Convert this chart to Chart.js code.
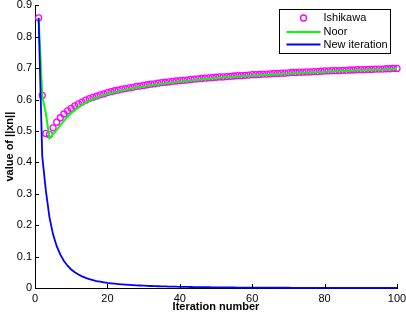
<!DOCTYPE html>
<html><head><meta charset="utf-8">
<script src="https://cdn.jsdelivr.net/npm/chart.js@4"></script>
<style>html,body{margin:0;padding:0;background:#fff}</style>
</head><body>
<canvas id="c" width="406" height="316"></canvas>
<script>
const iterations = [1,2,3,4,5,6,7,8,9,10,11,12,13,14,15,16,17,18,19,20,21,22,23,24,25,26,27,28,29,30,31,32,33,34,35,36,37,38,39,40,41,42,43,44,45,46,47,48,49,50,51,52,53,54,55,56,57,58,59,60,61,62,63,64,65,66,67,68,69,70,71,72,73,74,75,76,77,78,79,80,81,82,83,84,85,86,87,88,89,90,91,92,93,94,95,96,97,98,99,100];
const ishikawa = [0.860,0.613,0.492,0.488,0.510,0.528,0.542,0.554,0.564,0.572,
0.580,0.586,0.592,0.598,0.603,0.607,0.611,0.615,0.618,0.622,
0.625,0.628,0.630,0.633,0.635,0.637,0.639,0.642,0.643,0.645,
0.647,0.649,0.650,0.652,0.654,0.655,0.656,0.658,0.659,0.660,
0.661,0.662,0.664,0.665,0.666,0.667,0.668,0.669,0.670,0.671,
0.672,0.672,0.673,0.674,0.675,0.676,0.676,0.677,0.678,0.679,
0.679,0.680,0.681,0.681,0.682,0.683,0.683,0.684,0.684,0.685,
0.686,0.686,0.687,0.687,0.688,0.688,0.689,0.689,0.690,0.691,
0.691,0.692,0.692,0.692,0.693,0.693,0.694,0.694,0.695,0.695,
0.695,0.696,0.696,0.697,0.697,0.697,0.698,0.698,0.699,0.699];
const noor = [0.860,0.612,0.555,0.477,0.489,0.503,0.518,0.532,0.545,0.556,
0.566,0.575,0.583,0.590,0.596,0.601,0.606,0.610,0.614,0.617,
0.620,0.623,0.626,0.629,0.631,0.633,0.636,0.638,0.640,0.641,
0.643,0.645,0.646,0.648,0.650,0.651,0.653,0.654,0.656,0.657,
0.658,0.659,0.661,0.662,0.663,0.664,0.665,0.666,0.667,0.668,
0.669,0.670,0.671,0.671,0.672,0.673,0.674,0.675,0.675,0.676,
0.676,0.677,0.678,0.678,0.679,0.680,0.680,0.681,0.682,0.682,
0.683,0.684,0.684,0.685,0.685,0.686,0.686,0.687,0.687,0.688,
0.689,0.689,0.690,0.690,0.691,0.691,0.692,0.692,0.693,0.693,
0.693,0.694,0.694,0.695,0.695,0.695,0.696,0.696,0.697,0.697];
const newIteration = [0.860,0.420,0.310,0.225,0.170,0.133,0.106,0.086,0.071,0.059,
0.050,0.043,0.037,0.032,0.028,0.025,0.022,0.020,0.018,0.016,
0.0148,0.0136,0.0125,0.0115,0.0106,0.0098,0.0091,0.0085,0.0079,0.0074,
0.0069,0.0064,0.0060,0.0056,0.0052,0.0049,0.0046,0.0043,0.0041,0.0038,
0.0036,0.0034,0.0032,0.0030,0.0028,0.0027,0.0025,0.0024,0.0023,0.0021,
0.0020,0.0019,0.0018,0.0017,0.0016,0.0015,0.0015,0.0014,0.0013,0.0013,
0.0012,0.0011,0.0011,0.0010,0.0010,0.0009,0.0009,0.0008,0.0008,0.0008,
0.0007,0.0007,0.0006,0.0006,0.0006,0.0006,0.0005,0.0005,0.0005,0.0005,
0.0004,0.0004,0.0004,0.0004,0.0004,0.0004,0.0003,0.0003,0.0003,0.0003,
0.0003,0.0003,0.0003,0.0002,0.0002,0.0002,0.0002,0.0002,0.0002,0.0002];
const xTicks = [0,20,40,60,80,100];
const yTicks = [0,0.1,0.2,0.3,0.4,0.5,0.6,0.7,0.8,0.9];
const seriesNames = ['Ishikawa','Noor','New iteration'];
const xTitle = 'Iteration number';
const yTitle = 'value of ||xn||';

const FONT = '"Liberation Sans", Arial, Helvetica, sans-serif';
Chart.defaults.font.family = FONT;
Chart.defaults.font.size = 11;
Chart.defaults.color = '#000';

const pts = arr => iterations.map((x, i) => ({x: x, y: arr[i]}));

const inwardTicks = {
  id: 'inwardTicks',
  afterDatasetsDraw(chart) {
    const {ctx, chartArea: a, scales: {x, y}} = chart;
    ctx.save();
    ctx.strokeStyle = '#000';
    ctx.lineWidth = 1;
    ctx.beginPath();
    xTicks.forEach(v => {
      const px = Math.round(x.getPixelForValue(v)) + 0.5;
      ctx.moveTo(px, a.bottom); ctx.lineTo(px, a.bottom - 4);
    });
    yTicks.forEach(v => {
      const py = Math.round(y.getPixelForValue(v)) + 0.5;
      ctx.moveTo(a.left, py); ctx.lineTo(a.left + 4, py);
    });
    ctx.stroke();
    ctx.restore();
  }
};

const boxLegend = {
  id: 'boxLegend',
  afterDraw(chart) {
    const {ctx, chartArea: a} = chart;
    const ds = chart.data.datasets;
    const byName = n => ds.find(d => d.label === n);
    ctx.save();
    ctx.font = '11px ' + FONT;
    const maxW = Math.max(...seriesNames.map(n => ctx.measureText(n).width));
    const sampleL = 7, sampleW = 34, textGap = 3;
    const w = Math.round(sampleL + sampleW + textGap + maxW + 3);
    const right = Math.round(a.right) - 6.5;
    const left = right - w;
    const top = 9.5;
    const rowsY = [18, 32, 44.5];
    const h = 44;
    ctx.fillStyle = '#fff';
    ctx.fillRect(left, top, w, h);
    ctx.strokeStyle = '#000';
    ctx.lineWidth = 1;
    ctx.strokeRect(left, top, w, h);
    seriesNames.forEach((n, i) => {
      const d = byName(n);
      const y = rowsY[i];
      const sx = left + sampleL;
      if (d.showLine === false) {
        ctx.beginPath();
        ctx.arc(sx + sampleW / 2, y, d.pointRadius, 0, Math.PI * 2);
        ctx.strokeStyle = d.borderColor;
        ctx.lineWidth = d.pointBorderWidth;
        ctx.stroke();
      } else {
        ctx.beginPath();
        ctx.moveTo(sx, y); ctx.lineTo(sx + sampleW, y);
        ctx.strokeStyle = d.borderColor;
        ctx.lineWidth = d.borderWidth;
        ctx.stroke();
      }
      ctx.fillStyle = '#000';
      ctx.textBaseline = 'middle';
      ctx.textAlign = 'left';
      ctx.fillText(n, sx + sampleW + textGap, y);
    });
    ctx.restore();
  }
};

new Chart(document.getElementById('c'), {
  type: 'line',
  data: {
    datasets: [
      {label: seriesNames[2], data: pts(newIteration), borderColor: '#0000ff', backgroundColor: '#0000ff',
       borderWidth: 1.8, pointRadius: 0, fill: false, tension: 0, order: 0, clip: false},
      {label: seriesNames[1], data: pts(noor), borderColor: '#00ff00', backgroundColor: '#00ff00',
       borderWidth: 2, pointRadius: 0, fill: false, tension: 0, order: 1, clip: false},
      {label: seriesNames[0], data: pts(ishikawa), showLine: false, borderColor: '#ff00ff',
       pointBorderColor: '#ff00ff', pointBackgroundColor: 'rgba(0,0,0,0)', backgroundColor: 'rgba(0,0,0,0)',
       pointRadius: 3, pointBorderWidth: 1.3, order: 2, clip: false}
    ]
  },
  options: {
    responsive: false,
    animation: false,
    events: [],
    layout: {padding: {top: 4.5, right: 9, left: 0, bottom: 0}},
    plugins: {legend: {display: false}, tooltip: {enabled: false}},
    scales: {
      x: {
        type: 'linear', min: 0, max: 100,
        grid: {display: true, drawOnChartArea: false, drawTicks: false},
        border: {display: true, color: '#000', width: 1},
        afterBuildTicks: s => { s.ticks = xTicks.map(v => ({value: v})); },
        ticks: {padding: 4, color: '#000', font: {size: 11}, maxRotation: 0, callback: v => String(v)},
        title: {display: true, text: xTitle, font: {size: 11, weight: 'bold'}, color: '#000', padding: {top: 0, bottom: 2}},
        afterFit: s => { s.height = 28; s.paddingLeft = 0; s.paddingRight = 0; }
      },
      y: {
        type: 'linear', min: 0, max: 0.9,
        grid: {display: true, drawOnChartArea: false, drawTicks: false},
        border: {display: true, color: '#000', width: 1},
        afterBuildTicks: s => { s.ticks = yTicks.map(v => ({value: v})); },
        ticks: {padding: 3, color: '#000', font: {size: 11}, callback: v => String(Number(v.toFixed(1)))},
        title: {display: true, text: yTitle, font: {size: 11, weight: 'bold'}, color: '#000', padding: {top: 3, bottom: 0}},
        afterFit: s => { s.width = 35; s.paddingTop = 0; s.paddingBottom = 0; }
      }
    }
  },
  plugins: [inwardTicks, boxLegend]
});
</script>
</body></html>
